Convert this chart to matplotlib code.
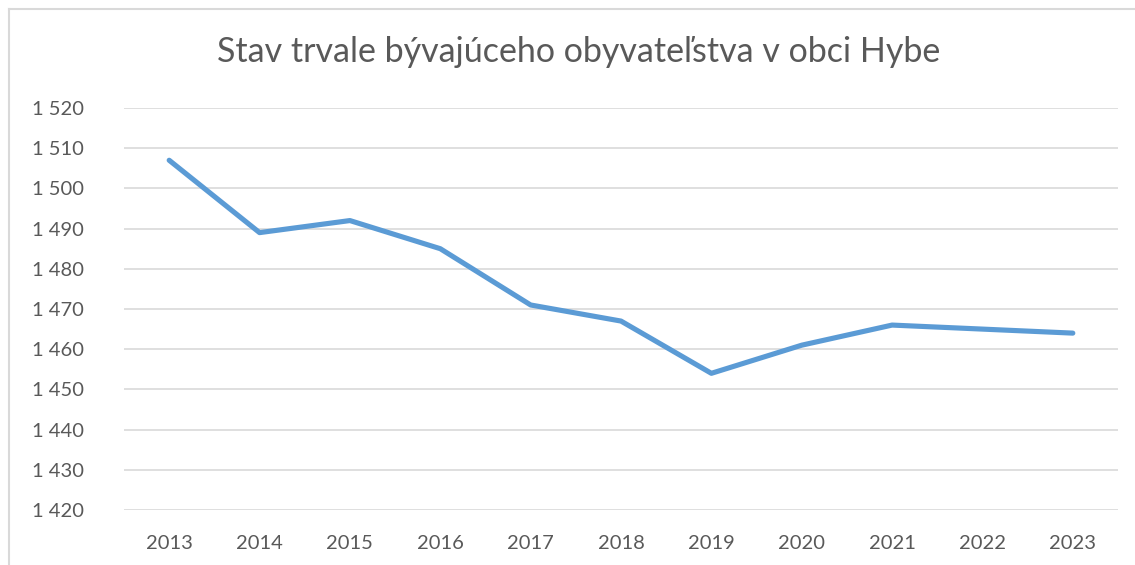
import matplotlib
matplotlib.use("Agg")
import matplotlib.pyplot as plt
from matplotlib.lines import Line2D

years = ["2013", "2014", "2015", "2016", "2017", "2018", "2019", "2020", "2021", "2022", "2023"]
population = [1507, 1489, 1492, 1485, 1471, 1467, 1454, 1461, 1466, 1465, 1464]
yticks = list(range(1420, 1521, 10))
title = "Stav trvale bývajúceho obyvateľstva v obci Hybe"

plt.rcParams['font.family'] = ['Lato', 'DejaVu Sans']
W, H = 1135, 565
fig = plt.figure(figsize=(W / 100, H / 100), dpi=100)
ax = fig.add_axes([124 / W, 1 - 510 / H, (1118 - 124) / W, (510 - 108) / H])

x = list(range(len(years)))
ax.plot(x, population, color="#5B9BD5", linewidth=3.7, solid_capstyle="round", solid_joinstyle="round", zorder=3)
ax.set_xlim(-0.5, len(years) - 0.5)
ax.set_ylim(1420, 1520)
ax.set_yticks(yticks)
ax.set_yticklabels([f"{v // 1000} {v % 1000:03d}" for v in yticks])
ax.set_xticks(x)
ax.set_xticklabels(years)
ax.grid(axis="y", color="#D9D9D9", linewidth=1.2)
ax.set_axisbelow(True)
for s in ax.spines.values():
    s.set_visible(False)
ax.tick_params(axis="both", length=0, labelsize=14.5, colors="#595959")
ax.tick_params(axis="y", pad=29)
ax.tick_params(axis="x", pad=18)

fig.text(579 / W, 1 - 52 / H, title, ha="center", va="center", fontsize=24.5, color="#595959")

# chart frame
fig.add_artist(Line2D([9 / W, 9 / W], [0, 1 - 9 / H], color="#D9D9D9", linewidth=1.5, transform=fig.transFigure))
fig.add_artist(Line2D([9 / W, 1], [1 - 9 / H, 1 - 9 / H], color="#D9D9D9", linewidth=1.5, transform=fig.transFigure))

fig.savefig("out.png", dpi=100)
